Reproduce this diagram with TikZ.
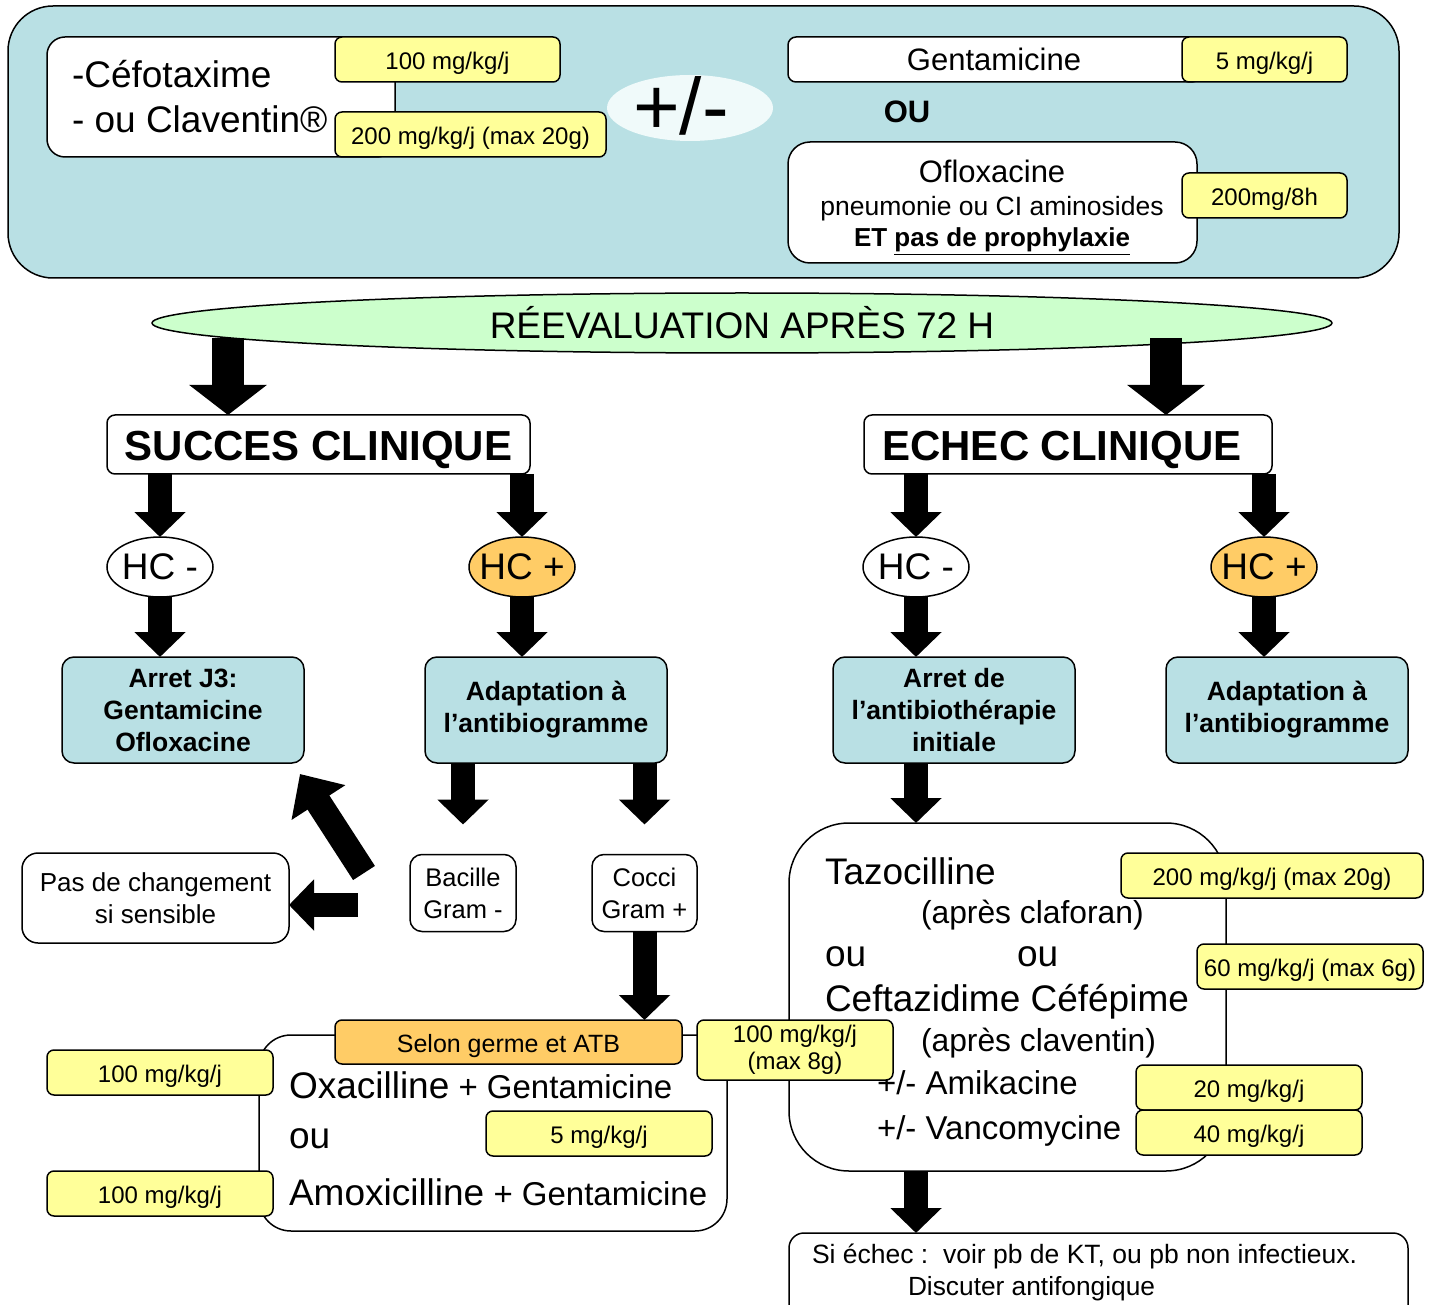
\documentclass[tikz,border=0pt]{standalone}
\usepackage{fontspec}
\setmainfont{Liberation Sans}
\usetikzlibrary{arrows.meta,shapes.geometric}
\newcommand\fsz[2]{\fontsize{#1}{#2}\selectfont}
\definecolor{lb}{RGB}{185,224,228}
\definecolor{yl}{RGB}{255,255,153}
\definecolor{og}{RGB}{255,204,102}
\definecolor{gr}{RGB}{204,255,204}
\definecolor{pmf}{RGB}{240,250,250}
\begin{document}
\begin{tikzpicture}[x=1pt,y=-1pt,
  every node/.style={inner sep=0pt, outer sep=0pt},
  thk/.style={line width=1.5pt},
  sz/.style 2 args={minimum width=#1pt, minimum height=#2pt},
  wbox/.style={draw, thk, fill=white, rounded corners=#1, align=center},
  wbox/.default=8pt,
  ybox/.style={draw, thk, fill=yl, rounded corners=7pt, font=\fsz{24}{27}, align=center, text height=21pt, text depth=1pt},
  ybox2/.style={draw, thk, fill=yl, rounded corners=7pt, font=\fsz{24}{27}, align=center},
  bbox/.style={draw, thk, fill=lb, rounded corners=12pt, font=\bfseries\fsz{26.5}{32}, align=center, minimum width=242pt, minimum height=106pt},
  hcell/.style={draw, thk, ellipse, minimum width=106pt, minimum height=60pt},
  hclab/.style={font=\fsz{37}{40}},
  txt/.style={anchor=base west, font=\fsz{#1}{#1}},
  bigA/.style={line width=32pt, -{Triangle[width=76pt,length=30pt]}},
  medA/.style={line width=24pt, -{Triangle[width=50pt,length=25pt]}},
  diagA/.style={line width=26pt, -{Triangle[width=62pt,length=34pt]}}
]
\clip (0,0) rectangle (1449,1305);
% ---------- top panel ----------
\node[draw, thk, fill=lb, rounded corners=45pt, sz={1391}{272}] (top) at (703.5,142) {};
\node[wbox=18pt, sz={348}{120}] (cefo) at (221,97) {};
\node[txt=37] (cefo1) at (72,88) {-Céfotaxime};
\node[txt=37] (cefo2) at (72,133) {- ou Claventin®};
\node[ybox, sz={225}{45}] (y1) at (447.5,59.5) {100 mg/kg/j};
\node[ybox, sz={271}{45}] (y2) at (470.5,134.5) {200 mg/kg/j (max 20g)};
\node[fill=pmf, ellipse, sz={166}{66}] (pm) at (690,108) {};
\node[font=\fsz{80}{80}] (pmt) at (681,106) {+/-};
\node[wbox=8pt, sz={412}{45}, font=\fsz{31}{36}] (gent) at (994,59.5) {Gentamicine};
\node[ybox, sz={165}{45}] (y3) at (1264.5,59.5) {5 mg/kg/j};
\node[font=\bfseries\fsz{31}{36}] (ou) at (907,112) {OU};
\node[wbox=22pt, sz={409}{121}] (oflo) at (992.5,202.5) {};
\node[anchor=base, font=\fsz{31}{36}] (of1) at (992,183) {Ofloxacine};
\node[anchor=base, font=\fsz{26.5}{30}] (of2) at (992,216) {pneumonie ou CI aminosides};
\node[anchor=base, font=\bfseries\fsz{26}{30}] (of3) at (992,247) {ET \underline{pas de prophylaxie}};
\node[ybox, sz={165}{45}] (y4) at (1264.5,195.5) {200mg/8h};
% ---------- reevaluation ----------
\node[draw, thk, ellipse, fill=gr, sz={1180}{60}, font=\fsz{37}{40}, text height=31pt, text depth=0pt] (reeval) at (742,323) {RÉEVALUATION APRÈS 72 H};
\node[wbox=8pt, sz={423}{59}, font=\bfseries\fsz{42}{48}, text height=32pt, text depth=0pt] (succes) at (318.5,444.5) {SUCCES CLINIQUE};
\node[wbox=8pt, sz={408}{59}] (echec) at (1068,444.5) {};
\node[font=\bfseries\fsz{42}{48}, text height=32pt, text depth=0pt] (echect) at (1062,444.5) {ECHEC CLINIQUE};
\node[hcell, fill=white, label={[hclab]center:HC -}] (hc1) at (160,567) {};
\node[hcell, fill=og, label={[hclab]center:HC +}] (hc2) at (522,567) {};
\node[hcell, fill=white, label={[hclab]center:HC -}] (hc3) at (916,567) {};
\node[hcell, fill=og, label={[hclab]center:HC +}] (hc4) at (1264,567) {};
\node[bbox] (b1) at (183,710) {Arret J3:\\Gentamicine\\Ofloxacine};
\node[bbox] (b2) at (546,710) {Adaptation à\\l’antibiogramme};
\node[bbox] (b3) at (954,710) {Arret de\\l’antibiothérapie\\initiale};
\node[bbox] (b4) at (1287,710) {Adaptation à\\l’antibiogramme};
\node[wbox=12pt, sz={106}{77}, font=\fsz{25.5}{32}] (bac) at (463,893) {Bacille\\Gram -};
\node[wbox=12pt, sz={105}{77}, font=\fsz{25.5}{32}] (coc) at (644.5,893) {Cocci\\Gram +};
\node[wbox=16pt, sz={267}{90}, font=\fsz{26}{32}] (pas) at (155.5,898) {Pas de changement\\si sensible};
% ---------- right box ----------
\node[wbox=60pt, sz={437}{348}] (rb) at (1007.5,997) {};
\node[txt=37] (r1t) at (825,884) {Tazocilline};
\node[txt=31.8] (r2t) at (921,923) {(après claforan)};
\node[txt=37] (r3t) at (825,966) {ou};
\node[txt=37] (r4t) at (1017,966) {ou};
\node[txt=37] (r5t) at (825,1011) {Ceftazidime Céfépime};
\node[txt=31.8] (r6t) at (921,1051) {(après claventin)};
\node[txt=33] (r7t) at (877,1094) {+/- Amikacine};
\node[txt=33] (r8t) at (877,1139) {+/- Vancomycine};
\node[ybox, sz={302}{45}] (y200r) at (1272,875.5) {200 mg/kg/j (max 20g)};
\node[ybox, sz={226}{45}] (y60) at (1310,966.5) {60 mg/kg/j (max 6g)};
\node[ybox, sz={226}{45}] (y20) at (1249,1087.5) {20 mg/kg/j};
\node[ybox, sz={226}{45}] (y40) at (1249,1132.5) {40 mg/kg/j};
% ---------- bottom left box ----------
\node[wbox=32pt, sz={468}{196}] (bl) at (493,1133) {};
\node[draw, thk, fill=og, rounded corners=7pt, sz={347}{44}, font=\fsz{25}{30}, text height=20pt, text depth=0pt] (selon) at (508.5,1042) {Selon germe et ATB};
\node[txt=37] (t1) at (289,1098) {Oxacilline{\fsz{33}{36} + Gentamicine}};
\node[txt=37] (t2) at (289,1148) {ou};
\node[txt=37] (t3) at (289,1205) {Amoxicilline{\fsz{33}{36} + Gentamicine}};
\node[ybox, sz={226}{45}] (y5b) at (599,1133.5) {5 mg/kg/j};
\node[ybox, sz={226}{45}] (y100a) at (160,1072.5) {100 mg/kg/j};
\node[ybox, sz={226}{45}] (y100b) at (160,1193.5) {100 mg/kg/j};
\node[ybox2, sz={196}{60}] (y100m) at (795,1050) {100 mg/kg/j\\(max 8g)};
% ---------- bottom box ----------
\node[wbox=15pt, sz={619}{90}] (bot) at (1098.5,1278) {};
\node[txt=26.5] (bt1) at (812,1263) {Si échec :\ \ voir pb de KT, ou pb non infectieux.};
\node[txt=26.3] (bt2) at (908,1295) {Discuter antifongique};
% ---------- arrows ----------
\coordinate (r1) at (228,338);
\coordinate (r2) at (1166,338);
\draw[bigA] (r1) -- (succes.north -| r1);
\draw[bigA] (r2) -- (echec.north -| r2);
\draw[medA] (succes.south -| hc1) -- (hc1.north);
\draw[medA] (succes.south -| hc2) -- (hc2.north);
\draw[medA] (echec.south -| hc3) -- (hc3.north);
\draw[medA] (echec.south -| hc4) -- (hc4.north);
\draw[medA] (hc1.south) -- (b1.north -| hc1);
\draw[medA] (hc2.south) -- (b2.north -| hc2);
\draw[medA] (hc3.south) -- (b3.north -| hc3);
\draw[medA] (hc4.south) -- (b4.north -| hc4);
\draw[medA] (b2.south -| bac) -- ([yshift=30pt]bac.north);
\draw[medA] (b2.south -| coc) -- ([yshift=30pt]coc.north);
\draw[medA] (b3.south -| hc3) -- (rb.north -| hc3);
\draw[medA] (coc.south) -- (selon.north -| coc);
\draw[medA] (rb.south -| hc3) -- (bot.north -| hc3);
\coordinate (dg1) at (364,873);
\coordinate (dg2) at (300,774);
\draw[diagA] (dg1) -- (dg2);
\coordinate (la) at (358,905);
\draw[medA] (la) -- (pas.east |- la);
\end{tikzpicture}
\end{document}
